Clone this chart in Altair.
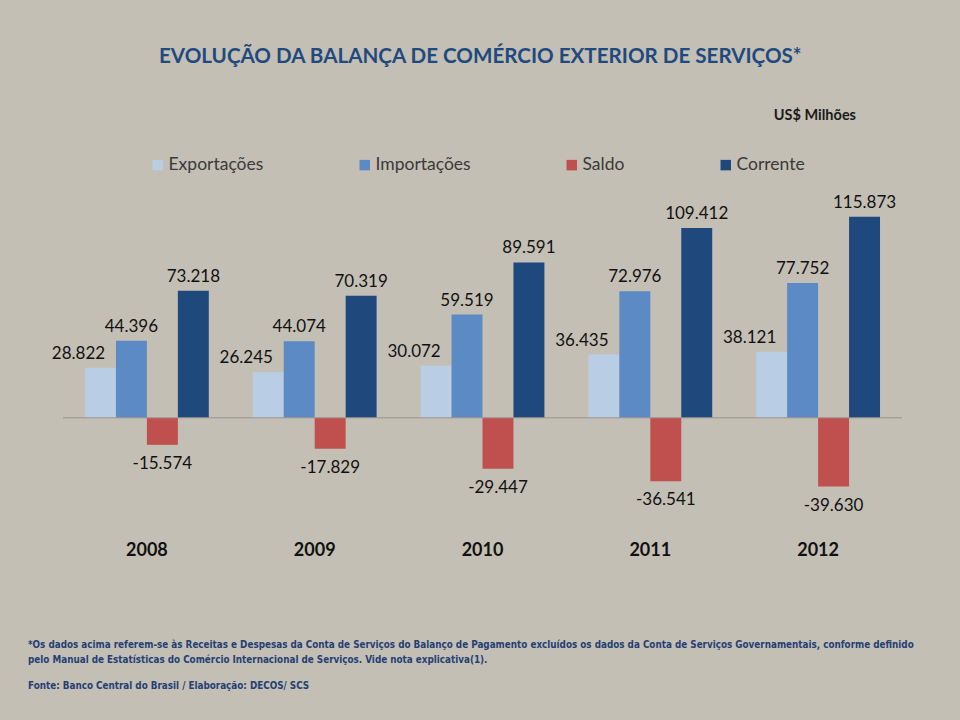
import altair as alt
import pandas as pd

anos = ["2008", "2009", "2010", "2011", "2012"]
series = ["Exportações", "Importações", "Saldo", "Corrente"]
exportacoes = [28822, 26245, 30072, 36435, 38121]
importacoes = [44396, 44074, 59519, 72976, 77752]
saldo = [-15574, -17829, -29447, -36541, -39630]
corrente = [73218, 70319, 89591, 109412, 115873]
cores = ["#B9CDE5", "#5B8AC5", "#C0504D", "#1F497D"]

titulo = "EVOLUÇÃO DA BALANÇA DE COMÉRCIO EXTERIOR DE SERVIÇOS*"
unidade = "US$ Milhões"
nota1 = ("*Os dados  acima  referem-se às  Receitas e  Despesas da Conta de Serviços do Balanço de Pagamento "
         "excluídos os dados da Conta de Serviços Governamentais, conforme definido")
nota2 = "pelo Manual de Estatísticas do Comércio Internacional de Serviços. Vide nota  explicativa(1)."
fonte = "Fonte: Banco Central do Brasil / Elaboração: DECOS/ SCS"

rows = []
for vals, s in zip([exportacoes, importacoes, saldo, corrente], series):
    for a, v in zip(anos, vals):
        rows.append({"ano": a, "serie": s, "valor": v})
df = pd.DataFrame(rows)

FONT = "Lato"
base = alt.Chart(df).transform_calculate(
    rotulo="(datum.valor < 0 ? '-' : '') + replace(format(abs(datum.valor), ','), ',', '.')"
)

x = alt.X("ano:N", sort=anos,
          scale=alt.Scale(paddingInner=0.262, paddingOuter=0.131),
          axis=alt.Axis(title=None, labelAngle=0, domain=False, ticks=False,
                        labelFont=FONT, labelFontSize=18, labelFontWeight="bold",
                        labelColor="#111111", labelPadding=7))
xo = alt.XOffset("serie:N", sort=series, scale=alt.Scale(paddingInner=0, paddingOuter=0))
y = alt.Y("valor:Q", scale=alt.Scale(domain=[-67000, 125000], nice=False, zero=False),
          axis=None)

bars = base.mark_bar().encode(
    x=x, xOffset=xo, y=y,
    color=alt.Color("serie:N", sort=series,
                    scale=alt.Scale(domain=series, range=cores),
                    legend=alt.Legend(title=None, orient="none", direction="horizontal",
                                      legendX=86, legendY=-45, symbolType="square",
                                      symbolSize=110, symbolStrokeWidth=0,
                                      labelFont=FONT, labelFontSize=17.5, labelColor="#3a3a3a",
                                      labelOffset=2, columnPadding=92, padding=0,
                                      labelLimit=300)),
)

txt_kw = dict(font=FONT, fontSize=17, color="#111111")
lab_pos = base.transform_filter(
    "datum.valor >= 0 && datum.serie != 'Exportações'"
).mark_text(baseline="bottom", dy=-5, **txt_kw).encode(
    x=x, xOffset=xo, y=y, text="rotulo:N")
lab_exp = base.transform_filter(
    "datum.serie == 'Exportações'"
).mark_text(baseline="bottom", dy=-5, dx=-22, **txt_kw).encode(
    x=x, xOffset=xo, y=y, text="rotulo:N")
lab_neg = base.transform_filter(
    "datum.valor < 0"
).mark_text(baseline="top", dy=11, **txt_kw).encode(
    x=x, xOffset=xo, y=y, text="rotulo:N")

zero = alt.Chart(pd.DataFrame({"v": [0]})).mark_rule(color="#9a958d", strokeWidth=1).encode(
    y=alt.Y("v:Q", scale=alt.Scale(domain=[-67000, 125000], nice=False, zero=False), axis=None))

def annot(text, xv, yv, **kw):
    return alt.Chart(pd.DataFrame({"t": [text]})).mark_text(**kw).encode(
        x=alt.value(xv), y=alt.value(yv), text="t:N")

t_title = annot(titulo, 96, -144, align="left", baseline="middle", font=FONT,
                fontSize=20.6, fontWeight="bold", color="#1F4A7F")
t_unid = annot(unidade, 793, -85, align="right", baseline="middle", font=FONT,
               fontSize=14.5, fontWeight="bold", color="#1a1a1a")
nkw = dict(align="left", baseline="middle", font="DejaVu Sans Condensed",
           fontSize=9.8, fontWeight="bold", color="#243F74")
t_n1 = annot(nota1, -35, 444, **nkw)
t_n2 = annot(nota2, -35, 459, **nkw)
t_f = annot(fonte, -35, 485, **nkw)

chart = alt.layer(bars, zero, lab_pos, lab_exp, lab_neg, t_title, t_unid, t_n1, t_n2, t_f).properties(
    width=839, height=333,
    autosize=alt.AutoSizeParams(type="none"),
    padding={"left": 63, "top": 201, "right": 58, "bottom": 186},
    background="#C4BFB4",
).configure_view(stroke=None)

chart.save("out.html", embed_options={"renderer": "svg", "actions": False})
